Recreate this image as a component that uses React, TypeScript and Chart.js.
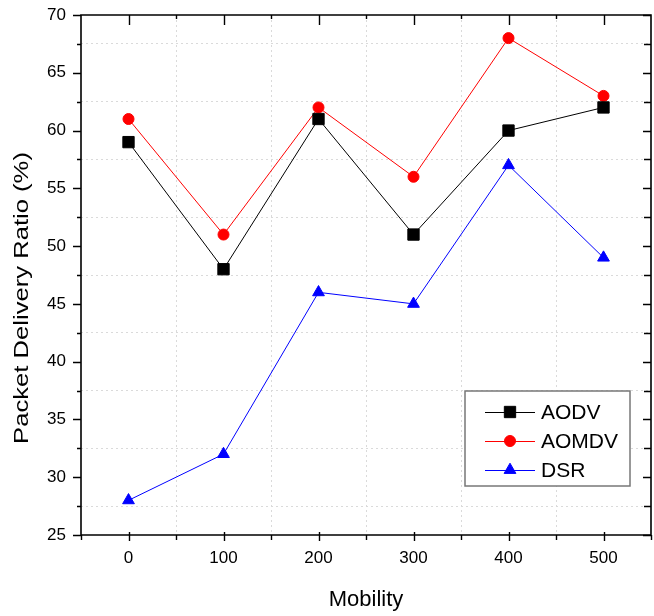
import React, { useEffect, useRef } from "react";
import { Chart, registerables } from "chart.js";

Chart.register(...registerables);

const categories = [0, 100, 200, 300, 400, 500];
const aodv = [59, 48, 61, 51, 60, 62];
const aomdv = [61, 51, 62, 56, 68, 63];
const dsr = [28, 32, 46, 45, 57, 49];
const seriesNames = ["AODV", "AOMDV", "DSR"];
const xMajorTicks = [0, 100, 200, 300, 400, 500];
const yMajorTicks = [25, 30, 35, 40, 45, 50, 55, 60, 65, 70];
const yTitle = "Packet Delivery Ratio (%)";

const FONT = "'Liberation Sans', Arial, sans-serif";

function drawMarker(ctx: CanvasRenderingContext2D, style: string, r: number, x: number, y: number) {
  ctx.beginPath();
  if (style === "rect") {
    const s = r * Math.SQRT1_2;
    ctx.rect(x - s, y - s, 2 * s, 2 * s);
  } else if (style === "triangle") {
    ctx.moveTo(x, y - r);
    ctx.lineTo(x + r * Math.sin(Math.PI / 3), y + r / 2);
    ctx.lineTo(x - r * Math.sin(Math.PI / 3), y + r / 2);
    ctx.closePath();
  } else {
    ctx.arc(x, y, r, 0, Math.PI * 2);
  }
  ctx.fill();
  ctx.stroke();
}

const framePlugin = {
  id: "frameAndLegend",
  afterDraw(chart: any) {
    const ctx = chart.ctx;
    const { left, right, top, bottom } = chart.chartArea;
    const xs = chart.scales.x;
    const ys = chart.scales.y;
    ctx.save();
    ctx.strokeStyle = "#000";
    ctx.lineWidth = 1.6;
    ctx.beginPath();
    ctx.rect(left, top, right - left, bottom - top);
    ctx.stroke();

    ctx.lineWidth = 1.4;
    ctx.beginPath();
    for (let v = xs.min; v <= xs.max + 1e-6; v += 50) {
      const px = Math.round(xs.getPixelForValue(v)) + 0.5;
      const major = xMajorTicks.includes(v);
      if (major) {
        ctx.moveTo(px, bottom - 3);
        ctx.lineTo(px, bottom + 6);
        ctx.moveTo(px, top);
        ctx.lineTo(px, top + 10);
      } else {
        ctx.moveTo(px, bottom);
        ctx.lineTo(px, bottom + 5);
        if (v > xs.min && v < xs.max) {
          ctx.moveTo(px, top);
          ctx.lineTo(px, top + 4);
        }
      }
    }
    for (let v = ys.min; v <= ys.max + 1e-6; v += 2.5) {
      const py = Math.round(ys.getPixelForValue(v)) + 0.5;
      const major = yMajorTicks.includes(v);
      if (major) {
        ctx.moveTo(left - 8, py);
        ctx.lineTo(left, py);
        ctx.moveTo(right - 8, py);
        ctx.lineTo(right, py);
      } else {
        ctx.moveTo(left - 4, py);
        ctx.lineTo(left, py);
        ctx.moveTo(right - 7, py);
        ctx.lineTo(right, py);
      }
    }
    ctx.stroke();

    // y-axis title (stretched along its length as in the reference)
    ctx.save();
    ctx.translate(22, 298);
    ctx.rotate(-Math.PI / 2);
    ctx.scale(1.22, 1);
    ctx.fillStyle = "#000";
    ctx.font = `21px ${FONT}`;
    ctx.textAlign = "center";
    ctx.textBaseline = "middle";
    ctx.fillText(yTitle, 0, 0);
    ctx.restore();

    // legend
    const bx = 465, by = 391, bw = 165, bh = 95;
    ctx.fillStyle = "#fff";
    ctx.fillRect(bx, by, bw, bh);
    ctx.strokeStyle = "#777";
    ctx.lineWidth = 1.5;
    ctx.strokeRect(bx, by, bw, bh);
    const rowYs = [412, 441, 470];
    chart.data.datasets.forEach((ds: any, i: number) => {
      const cy = rowYs[i];
      ctx.strokeStyle = ds.borderColor;
      ctx.lineWidth = 1;
      ctx.beginPath();
      ctx.moveTo(485, cy + 0.5);
      ctx.lineTo(535, cy + 0.5);
      ctx.stroke();
      ctx.fillStyle = ds.pointBackgroundColor;
      ctx.strokeStyle = ds.pointBorderColor;
      ctx.lineWidth = 1;
      drawMarker(ctx, ds.pointStyle, ds.pointRadius, 510, cy);
      ctx.fillStyle = "#000";
      ctx.font = `21px ${FONT}`;
      ctx.textBaseline = "middle";
      ctx.textAlign = "left";
      ctx.fillText(ds.label, 541, cy + 1);
    });
    ctx.restore();
  },
};

const zeroPad = (s: any) => {
  s.paddingLeft = 0;
  s.paddingRight = 0;
  s.paddingTop = 0;
  s.paddingBottom = 0;
};

export default function App() {
  const ref = useRef<HTMLCanvasElement>(null);
  useEffect(() => {
    document.body.style.margin = "0";
    const mk = (name: string, vals: number[], color: string, style: string, r: number) => ({
      label: name,
      data: categories.map((x, i) => ({ x, y: vals[i] })),
      borderColor: color,
      backgroundColor: color,
      pointBackgroundColor: color,
      pointBorderColor: color,
      borderWidth: 1,
      pointStyle: style,
      pointRadius: r,
      pointHoverRadius: r,
      pointBorderWidth: 1,
      tension: 0,
      clip: false,
    });
    const gridColor = (isMajor: (v: number) => boolean, min: number, max: number) => (c: any) => {
      const v = c.tick?.value;
      if (v === undefined) return "transparent";
      if (Math.abs(v - min) < 1e-6 || Math.abs(v - max) < 1e-6) return "transparent";
      return isMajor(v) ? "transparent" : "#dadada";
    };
    const chart = new Chart(ref.current as HTMLCanvasElement, {
      type: "line",
      data: {
        datasets: [
          mk(seriesNames[0], aodv, "#000000", "rect", 8),
          mk(seriesNames[1], aomdv, "#ff0000", "circle", 5.5),
          mk(seriesNames[2], dsr, "#0000ff", "triangle", 6.8),
        ] as any,
      },
      options: {
        animation: false,
        responsive: false,
        layout: { autoPadding: false, padding: { top: 15, right: 3, left: 0, bottom: 0 } },
        plugins: { legend: { display: false }, tooltip: { enabled: false } },
        scales: {
          x: {
            type: "linear",
            min: -50,
            max: 550,
            afterFit: (s: any) => { s.height = 81; zeroPad(s); },
            ticks: {
              stepSize: 50,
              autoSkip: false,
              maxRotation: 0,
              padding: 13,
              color: "#000",
              font: { size: 17, family: FONT },
              callback: (v: any) => (xMajorTicks.includes(v) ? String(v) : ""),
            },
            grid: { drawTicks: false, color: gridColor((v) => xMajorTicks.includes(v), -50, 550), lineWidth: 1 },
            border: { display: false, dash: [2, 3] },
            title: {
              display: true,
              text: "Mobility",
              color: "#000",
              font: { size: 22, family: FONT },
              padding: { top: 0, bottom: 3 },
            },
          },
          y: {
            type: "linear",
            min: 25,
            max: 70,
            afterFit: (s: any) => { s.width = 81; zeroPad(s); },
            ticks: {
              stepSize: 2.5,
              autoSkip: false,
              padding: 15,
              color: "#000",
              font: { size: 17, family: FONT },
              callback: (v: any) => (yMajorTicks.includes(v) ? String(v) : ""),
            },
            grid: { drawTicks: false, color: gridColor((v) => yMajorTicks.includes(v), 25, 70), lineWidth: 1 },
            border: { display: false, dash: [2, 3] },
            title: { display: false },
          },
        },
      } as any,
      plugins: [framePlugin],
    });
    return () => chart.destroy();
  }, []);
  return (
    <div style={{ width: 654, height: 616 }}>
      <canvas ref={ref} width={654} height={616} style={{ display: "block" }} />
    </div>
  );
}
